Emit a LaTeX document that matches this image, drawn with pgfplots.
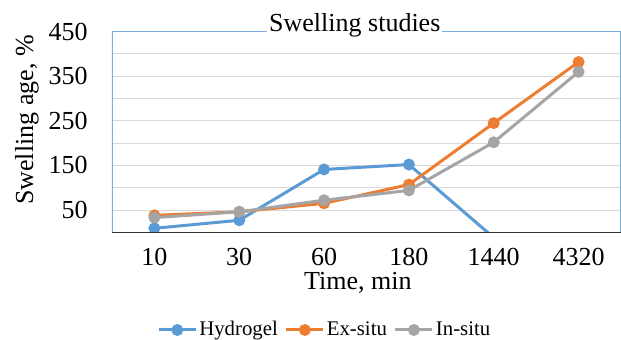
\documentclass[border=0pt]{standalone}
\usepackage{fontspec}
\setmainfont{Liberation Serif}
\usepackage{pgfplots}
\pgfplotsset{compat=1.18}
\definecolor{cblue}{HTML}{5B9BD5}
\definecolor{corange}{HTML}{ED7D31}
\definecolor{cgray}{HTML}{A5A5A5}
\definecolor{cgrid}{HTML}{D9D9D9}
\definecolor{cframe}{HTML}{7FAEDD}
\begin{document}
\begin{tikzpicture}
\useasboundingbox (-56pt,-53.35pt) rectangle (254.5pt,116.15pt);
\begin{axis}[
  at={(0,0)}, anchor=south west,
  scale only axis, width=254.5pt, height=100.3pt,
  xmin=-0.5, xmax=5.5, ymin=0, ymax=450,
  xtick={0,1,2,3,4,5},
  xticklabels={10,30,60,180,1440,4320},
  ytick={50,150,250,350,450},
  minor ytick={0,100,200,300,400},
  ymajorgrids, yminorgrids,
  major grid style={cgrid, line width=0.5pt},
  minor grid style={cgrid, line width=0.5pt},
  major tick length=0pt, minor tick length=0pt,
  axis line style={draw=none},
  /pgf/number format/assume math mode=true,
  tick label style={font=\fontsize{13}{15}\selectfont},
  yticklabel style={anchor=east, inner sep=0pt, xshift=-12pt},
  xticklabel style={anchor=base, inner sep=0pt, yshift=-16.35pt},
  xlabel={Time, min},
  ylabel={Swelling age, \%},
  every axis x label/.style={at={(axis description cs:0.483,0)}, anchor=base, yshift=-28.5pt, font=\fontsize{13}{15}\selectfont},
  every axis y label/.style={at={(axis description cs:-0.167,0.56)}, anchor=center, rotate=90, font=\fontsize{13}{15}\selectfont},
  title={Swelling studies},
  every axis title shift=0pt,
  title style={at={(axis description cs:0.477,1)}, anchor=base, fill=white, inner sep=1pt, font=\fontsize{13}{15}\selectfont},
  clip marker paths=true,
  legend columns=-1,
  legend style={at={(axis description cs:0.418,-0.487)}, anchor=center, draw=none, fill=none,
    font=\fontsize{10.4}{12}\selectfont,
    nodes={inner xsep=1pt, inner ysep=1pt},
    /tikz/every even column/.append style={column sep=2.5pt}},
  legend image code/.code={\draw[mark repeat=2,mark phase=2] plot coordinates {(0pt,0pt)(9.25pt,0pt)(18.5pt,0pt)};},
  every axis plot/.append style={line width=1.5pt, mark=*, mark size=2.2pt},
]
\draw[cframe, line width=0.6pt] (rel axis cs:0,0) -- (rel axis cs:0,1) -- (rel axis cs:1,1) -- (rel axis cs:1,0);
\addplot[color=cblue, mark options={fill=cblue, draw=cblue}] coordinates {(0,9)(1,27)(2,141)(3,152)(4,-12)};
\addplot[color=corange, mark options={fill=corange, draw=corange}] coordinates {(0,38)(1,46)(2,65)(3,107)(4,245)(5,382)};
\addplot[color=cgray, mark options={fill=cgray, draw=cgray}] coordinates {(0,33)(1,46)(2,72)(3,94)(4,202)(5,360)};
\legend{Hydrogel, Ex-situ, In-situ}
\draw[black!80, line width=0.6pt] (rel axis cs:0,0) -- (rel axis cs:1,0);
\end{axis}
\end{tikzpicture}
\end{document}
